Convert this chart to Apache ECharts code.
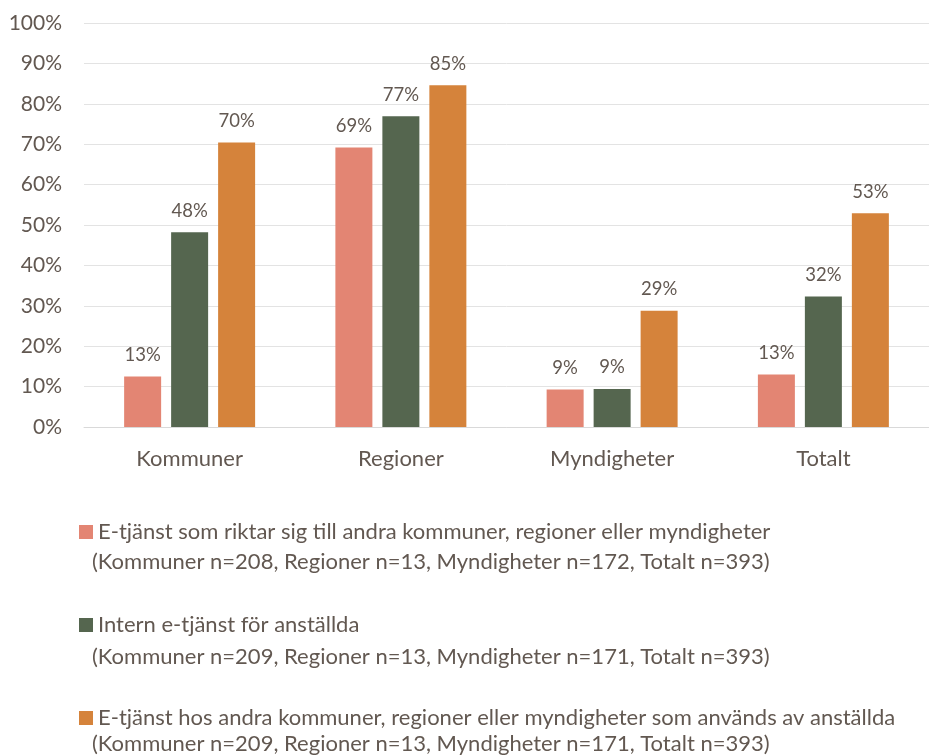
<!DOCTYPE html>
<html>
<head>
<meta charset="utf-8">
<script src="https://cdn.jsdelivr.net/npm/echarts@6/dist/echarts.min.js"></script>
<style>
  html, body { margin: 0; padding: 0; background: #fff; }
  #chart { width: 929px; height: 756px; }
</style>
</head>
<body>
<div id="chart"></div>
<script>
var categories = ['Kommuner', 'Regioner', 'Myndigheter', 'Totalt'];
var seriesNames = [
    'E-tjänst som riktar sig till andra kommuner, regioner eller myndigheter',
    'Intern e-tjänst för anställda',
    'E-tjänst hos andra kommuner, regioner eller myndigheter som används av anställda'
];
var seriesNotes = [
    '(Kommuner n=208, Regioner n=13, Myndigheter n=172, Totalt n=393)',
    '(Kommuner n=209, Regioner n=13, Myndigheter n=171, Totalt n=393)',
    '(Kommuner n=209, Regioner n=13, Myndigheter n=171, Totalt n=393)'
];
var externalValues = [12.5, 69.2, 9.3, 13.0];
var internalValues = [48.2, 76.9, 9.4, 32.3];
var otherValues = [70.4, 84.6, 28.8, 52.9];
var colors = ['#E38573', '#55664F', '#D5833B'];

var font = 'Lato, "Open Sans", sans-serif';
var textColor = '#625851';

var dom = document.getElementById('chart');
var myChart = echarts.init(dom);

function makeSeries(name, data) {
    return {
        name: name,
        type: 'bar',
        data: data,
        barWidth: 37,
        barGap: '27%',
        label: {
            show: true,
            position: 'top',
            distance: 12,
            color: textColor,
            fontFamily: font,
            fontSize: 18.5,
            formatter: function (p) { return Math.round(p.value) + '%'; }
        }
    };
}

var option = {
    color: colors,
    animation: false,
    grid: {
        left: 84,
        right: -6,
        top: 23,
        bottom: 329
    },
    xAxis: {
        type: 'category',
        data: categories,
        axisTick: { show: false },
        axisLine: { lineStyle: { color: '#D9D9D9', width: 1 } },
        axisLabel: {
            color: textColor,
            fontFamily: font,
            fontSize: 22,
            margin: 21
        }
    },
    yAxis: {
        type: 'value',
        min: 0,
        max: 100,
        interval: 10,
        axisLine: { show: false },
        axisTick: { show: false },
        splitLine: { lineStyle: { color: '#E3E3E3', width: 1 } },
        axisLabel: {
            color: textColor,
            fontFamily: font,
            fontSize: 21,
            margin: 22,
            formatter: '{value}%'
        }
    },
    legend: {
        orient: 'vertical',
        left: 74,
        top: 514,
        itemWidth: 14,
        itemHeight: 14,
        itemGap: 67,
        icon: 'rect',
        selectedMode: false,
        textStyle: {
            color: textColor,
            fontFamily: font,
            fontSize: 22,
            lineHeight: 26
        },
        data: seriesNames
    },
    graphic: seriesNotes.map(function (t, i) {
        return {
            type: 'text',
            left: 92,
            top: [551, 646, 733][i],
            style: {
                text: t,
                fill: textColor,
                font: '22px ' + font
            }
        };
    }),
    series: [
        makeSeries(seriesNames[0], externalValues),
        makeSeries(seriesNames[1], internalValues),
        makeSeries(seriesNames[2], otherValues)
    ]
};

if (option && typeof option === 'object') {
    myChart.setOption(option, true);
}
</script>
</body>
</html>
